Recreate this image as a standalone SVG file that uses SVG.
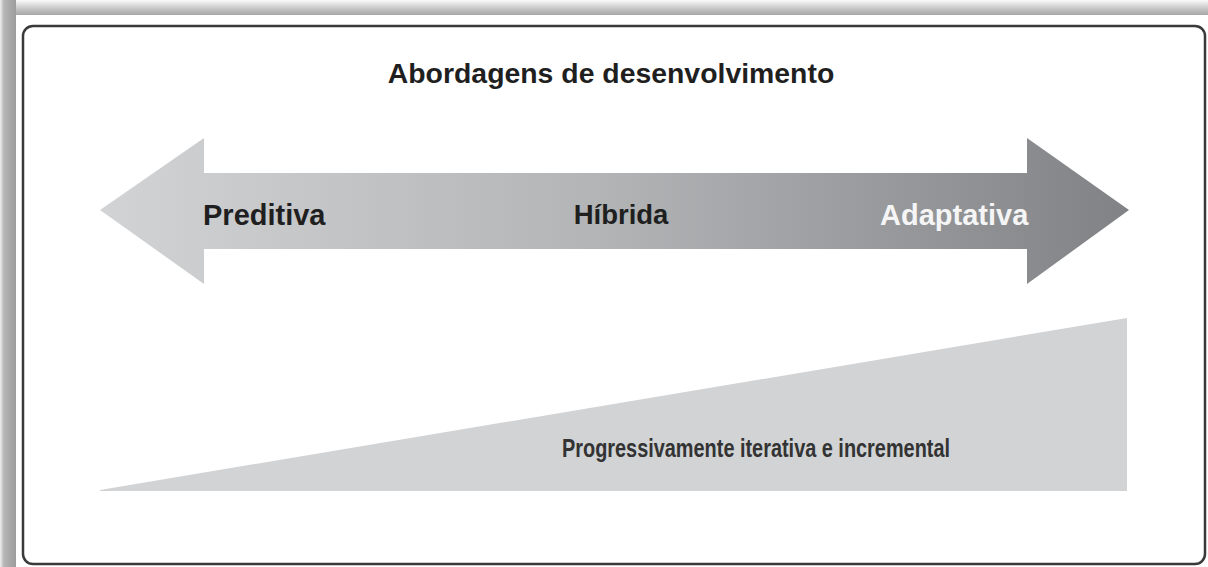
<svg xmlns="http://www.w3.org/2000/svg" width="1208" height="567" viewBox="0 0 1208 567">
  <defs>
    <linearGradient id="topShade" x1="0" y1="0" x2="0" y2="1">
      <stop offset="0" stop-color="#fbfbfb"/>
      <stop offset="0.6" stop-color="#c4c4c4"/>
      <stop offset="1" stop-color="#a6a6a6"/>
    </linearGradient>
    <linearGradient id="leftShade" x1="0" y1="0" x2="1" y2="0">
      <stop offset="0" stop-color="#eeeeee"/>
      <stop offset="0.25" stop-color="#b5b5b5"/>
      <stop offset="1" stop-color="#9c9c9c"/>
    </linearGradient>
    <linearGradient id="arrowGrad" gradientUnits="userSpaceOnUse" x1="100" y1="0" x2="1129" y2="0">
      <stop offset="0" stop-color="#d1d3d5"/>
      <stop offset="0.5" stop-color="#b1b3b5"/>
      <stop offset="1" stop-color="#808285"/>
    </linearGradient>
    <style>
      .lbl { font-family: "Liberation Sans", Arial, sans-serif; font-weight: bold; }
      .dark { fill: #1f1f1f; }
    </style>
  </defs>

  <!-- page background and shadow strips -->
  <rect x="0" y="0" width="1208" height="567" fill="#ffffff"/>
  <rect x="0" y="0" width="1208" height="15" fill="url(#topShade)"/>
  <rect x="0" y="0" width="16" height="567" fill="url(#leftShade)"/>

  <!-- frame -->
  <g id="frame">
    <rect x="23" y="26" width="1182" height="538" rx="10" ry="10" fill="#ffffff" stroke="#3a3a3a" stroke-width="2.5"/>
  </g>

  <!-- title -->
  <g id="title">
    <text class="lbl dark" x="611" y="83" font-size="28.4" text-anchor="middle">Abordagens de desenvolvimento</text>
  </g>

  <!-- double-headed arrow -->
  <g id="connectors">
    <polygon id="approach-arrow" points="100,210 204,138 204,173 1027,173 1027,138 1129,210 1027,284 1027,249 204,249 204,284" fill="url(#arrowGrad)"/>
  </g>

  <g id="node-preditiva">
    <text class="lbl dark" x="203" y="225" font-size="29">Preditiva</text>
  </g>
  <g id="node-hibrida">
    <text class="lbl dark" x="621" y="224" font-size="27.5" text-anchor="middle">Híbrida</text>
  </g>
  <g id="node-adaptativa">
    <text class="lbl" x="880" y="225" font-size="29" fill="#f5f5f5">Adaptativa</text>
  </g>

  <!-- wedge -->
  <g id="node-wedge">
    <polygon points="100,490 1127,318 1127,491 100,491" fill="#d1d3d5"/>
    <text class="lbl" x="562" y="457" font-size="25" fill="#333333" textLength="388" lengthAdjust="spacingAndGlyphs">Progressivamente iterativa e incremental</text>
  </g>
</svg>
